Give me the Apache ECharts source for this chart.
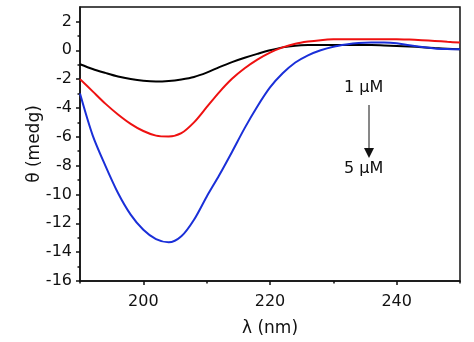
<!DOCTYPE html>
<html><head><meta charset="utf-8">
<script src="https://cdn.jsdelivr.net/npm/echarts@6/dist/echarts.min.js"></script>
<style>html,body{margin:0;padding:0;background:#fff}#c{width:474px;height:342px}</style>
</head><body><div id="c"></div>
<script>
const wavelength = [190,192,194,196,198,200,202,204,206,208,210,212,214,216,218,220,222,224,226,228,230,232,234,236,238,240,242,244,246,248,250];
const theta1uM = [-0.97,-1.3,-1.57,-1.82,-2.0,-2.12,-2.17,-2.13,-2.02,-1.85,-1.55,-1.17,-0.82,-0.52,-0.25,0.0,0.2,0.31,0.36,0.37,0.37,0.37,0.37,0.36,0.33,0.3,0.26,0.21,0.15,0.1,0.07];
const theta3uM = [-2.0,-2.85,-3.7,-4.45,-5.1,-5.6,-5.92,-5.98,-5.75,-5.0,-3.95,-2.9,-1.98,-1.25,-0.65,-0.16,0.2,0.45,0.6,0.7,0.76,0.77,0.77,0.77,0.77,0.76,0.74,0.7,0.65,0.59,0.53];
const theta5uM = [-3.0,-5.9,-8.0,-9.9,-11.4,-12.45,-13.1,-13.32,-12.9,-11.75,-10.15,-8.65,-7.05,-5.4,-3.9,-2.58,-1.6,-0.85,-0.35,0.0,0.25,0.4,0.5,0.53,0.53,0.48,0.34,0.22,0.13,0.09,0.07];
const xTicks = [200,220,240];
const xMinorTicks = [190,210,230,250];
const yTicks = [-16,-14,-12,-10,-8,-6,-4,-2,0,2];
const yMinorTicks = [-15,-13,-11,-9,-7,-5,-3,-1,1];

const font = '"DejaVu Sans", Arial, sans-serif';
const pair = (xs, ys) => xs.map((x, i) => [x, ys[i]]);
const chart = echarts.init(document.getElementById('c'));
const mkSeries = (data, color) => ({type:'line', data, showSymbol:false, smooth:0.3, lineStyle:{color, width:2}, xAxisIndex:0, yAxisIndex:0, z:3});
chart.setOption({
  animation:false,
  grid:{left:80, right:14, top:7, bottom:61, show:true, borderColor:'#111', borderWidth:1.5},
  xAxis:[
    {type:'value', min:190, max:250, position:'bottom',
     axisLine:{show:true, onZero:false, lineStyle:{color:'#111', width:1.5}},
     axisTick:{show:true, customValues:xTicks, length:4, lineStyle:{color:'#111', width:1.5}},
     axisLabel:{customValues:xTicks, color:'#111', fontSize:16, fontFamily:font, margin:13},
     splitLine:{show:false},
     name:'λ (nm)', nameLocation:'middle', nameGap:39, nameMoveOverlap:false,
     nameTextStyle:{color:'#111', fontSize:17, fontFamily:font}},
    {type:'value', min:190, max:250, position:'bottom', gridIndex:0,
     axisLine:{show:false, onZero:false},
     axisTick:{show:true, customValues:xMinorTicks, length:2.5, lineStyle:{color:'#111', width:1.5}},
     axisLabel:{show:false}, splitLine:{show:false}}
  ],
  yAxis:[
    {type:'value', min:-16, max:3, position:'left',
     axisLine:{show:true, onZero:false, lineStyle:{color:'#111', width:1.5}},
     axisTick:{show:true, customValues:yTicks, length:4, lineStyle:{color:'#111', width:1.5}},
     axisLabel:{customValues:yTicks, color:'#111', fontSize:16, fontFamily:font, margin:8},
     splitLine:{show:false},
     name:'θ (medg)', nameLocation:'middle', nameGap:37, nameRotate:90, nameMoveOverlap:false,
     nameTextStyle:{color:'#111', fontSize:17, fontFamily:font}},
    {type:'value', min:-16, max:3, position:'left', gridIndex:0,
     axisLine:{show:false, onZero:false},
     axisTick:{show:true, customValues:yMinorTicks, length:2.5, lineStyle:{color:'#111', width:1.5}},
     axisLabel:{show:false}, splitLine:{show:false}}
  ],
  series:[
    mkSeries(pair(wavelength, theta1uM), '#000000'),
    mkSeries(pair(wavelength, theta3uM), '#ee1111'),
    mkSeries(pair(wavelength, theta5uM), '#1a2fd8')
  ],
  graphic:[
    {type:'text', left:344, top:80, style:{text:'1 μM', font:'16px ' + font, fill:'#111'}},
    {type:'line', shape:{x1:369, y1:105, x2:369, y2:150}, style:{stroke:'#111', lineWidth:1}},
    {type:'polygon', shape:{points:[[364,148],[374,148],[369,158]]}, style:{fill:'#111'}},
    {type:'text', left:344, top:161, style:{text:'5 μM', font:'16px ' + font, fill:'#111'}}
  ]
});
</script></body></html>
